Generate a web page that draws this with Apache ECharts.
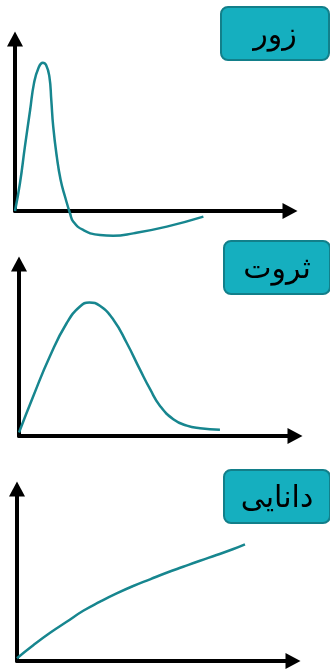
<!DOCTYPE html>
<html>
<head>
<meta charset="utf-8">
<style>
  html, body { margin: 0; padding: 0; background: #fff; }
  #chart { width: 330px; height: 669px; }
</style>
<script src="https://cdn.jsdelivr.net/npm/echarts@6/dist/echarts.min.js"></script>
</head>
<body>
<div id="chart"></div>
<script>
// labels of the three panels
const titles = ['زور', 'ثروت', 'دانایی']

// curve points [x, y] (x: 0..100, y: 0..100)
const powerCurve = [
  [0, 0], [1.8, 16.1], [3.6, 37.4], [5.5, 58.7], [6.9, 74.2], [8.5, 83.0],
  [10.1, 86.2], [11.3, 84.9], [12.5, 78.1], [13.2, 64.5], [13.9, 49.0],
  [15.2, 31.6], [16.6, 18.0], [18.2, 8.3], [20.0, -1.3], [21.2, -6.2],
  [24.8, -11.0], [30.9, -14.0], [35.7, -14.4], [43.0, -13.0], [55.2, -9.1],
  [68.5, -3.3]
]
const wealthCurve = [
  [0, 2], [5.2, 23.3], [11.2, 46.4], [17.3, 65.7], [22.1, 75.3], [25.5, 77.6],
  [29.3, 75.7], [34.2, 67.6], [39.0, 54.2], [43.8, 38.7], [47.5, 27.2],
  [51.1, 17.5], [55.9, 9.8], [60.8, 6.0], [65.6, 4.5], [72.8, 3.6]
]
const knowledgeCurve = [
  [0, 1.6], [6.0, 9.3], [12.0, 16.4], [18.0, 22.8], [24.0, 29.2], [30.1, 34.5],
  [36.1, 39.3], [42.1, 43.6], [48.2, 47.5], [54.2, 51.3], [60.2, 54.8],
  [66.3, 58.3], [72.3, 61.6], [78.4, 65.1], [82.6, 67.8]
]

const curves = [powerCurve, wealthCurve, knowledgeCurve]

const lineColor = '#17868f'
const boxFill = '#15afbf'
const boxBorder = '#127f8a'

// panel layout in pixels
const grids = [
  { left: 15, top: 39, width: 275, height: 172 },
  { left: 19, top: 264, width: 276, height: 172 },
  { left: 17, top: 489, width: 276, height: 172 }
]
const boxes = [
  { x: 220, y: 6, w: 108, h: 53 },
  { x: 223, y: 240, w: 106, h: 53 },
  { x: 223, y: 469, w: 106, h: 53 }
]

function axisLine () {
  return {
    show: true,
    onZero: true,
    symbol: ['none', 'triangle'],
    symbolSize: [16, 15],
    lineStyle: { color: '#000', width: 4 }
  }
}

const chart = echarts.init(document.getElementById('chart'), null, { renderer: 'canvas' })

chart.setOption({
  animation: false,
  grid: grids,
  xAxis: grids.map((g, i) => ({
    type: 'value',
    gridIndex: i,
    min: 0,
    max: 100,
    axisLine: axisLine(),
    axisTick: { show: false },
    axisLabel: { show: false },
    splitLine: { show: false }
  })),
  yAxis: grids.map((g, i) => ({
    type: 'value',
    gridIndex: i,
    min: 0,
    max: 100,
    axisLine: axisLine(),
    axisTick: { show: false },
    axisLabel: { show: false },
    splitLine: { show: false }
  })),
  series: curves.map((data, i) => ({
    type: 'line',
    xAxisIndex: i,
    yAxisIndex: i,
    data: data,
    smooth: 0.5,
    showSymbol: false,
    clip: false,
    lineStyle: { color: lineColor, width: 2.5 },
    z: 1
  })),
  graphic: boxes.map((b, i) => ({
    type: 'group',
    left: b.x,
    top: b.y,
    children: [
      {
        type: 'rect',
        shape: { x: 0, y: 0, width: b.w, height: b.h, r: 7 },
        style: { fill: boxFill, stroke: boxBorder, lineWidth: 2 }
      },
      {
        type: 'text',
        x: b.w / 2,
        y: b.h / 2 + 3,
        style: {
          text: titles[i],
          fill: '#000',
          font: '30px "DejaVu Sans"',
          align: 'center',
          verticalAlign: 'middle'
        }
      }
    ]
  }))
})
</script>
</body>
</html>
